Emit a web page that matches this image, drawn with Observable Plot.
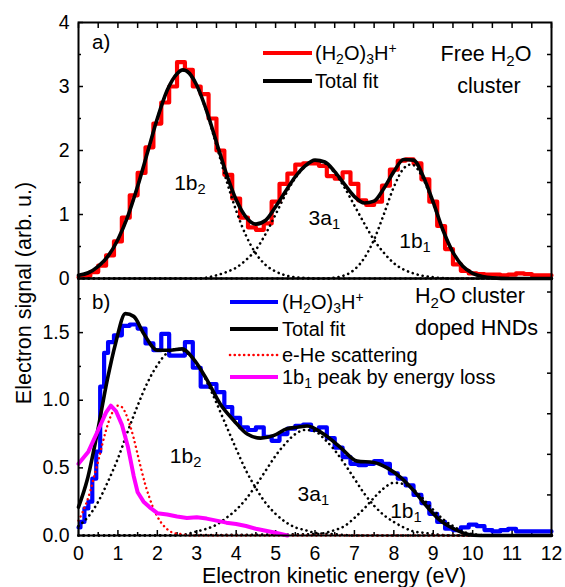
<!DOCTYPE html>
<html><head><meta charset="utf-8">
<script src="https://cdn.jsdelivr.net/npm/d3@7"></script>
<script src="https://cdn.jsdelivr.net/npm/@observablehq/plot@0.6"></script>
<style>
html,body{margin:0;padding:0;background:#fff;}
#chart{position:relative;width:565px;height:587px;font-family:"Liberation Sans",Arial,sans-serif;color:#000;overflow:hidden;}
#chart svg{position:absolute;left:0;overflow:visible;}
.lab{position:absolute;white-space:nowrap;line-height:1;}
.lab sub{font-size:70%;vertical-align:-0.32em;line-height:0;}
.lab sup{font-size:70%;vertical-align:0.5em;line-height:0;}
</style></head>
<body><div id="chart"></div>
<script>
// ---------- ticks ----------
const xMajorTicks = [0,1,2,3,4,5,6,7,8,9,10,11,12];
const xMinorTicks = [0.5,1.5,2.5,3.5,4.5,5.5,6.5,7.5,8.5,9.5,10.5,11.5];
const topYTicks = [0,1,2,3,4];
const topYMinor = [0.5,1.5,2.5,3.5];
const topYRight = [0.5,1,1.5,2,2.5,3,3.5];
const botYTicks = [0,0.5,1,1.5];
const botYMinor = [0.25,0.75,1.25,1.75];
const botYRight = [0.3,0.6,0.9,1.2,1.5,1.8];
const botYLabels = ["0.0","0.5","1.0","1.5"];

// ---------- panel a) free H2O cluster ----------
const topData = [[0,.02],[.2,.04],[.4,.10],[.6,.20],[.8,.36],[1.0,.58],[1.2,.95],[1.4,1.30],[1.6,1.65],[1.8,2.05],[2.0,2.42],[2.2,2.75],[2.4,3.00],[2.6,3.38],[2.8,3.26],[3.0,3.00],[3.2,2.88],[3.4,2.50],[3.6,2.00],[3.8,1.62],[4.0,1.25],[4.2,.95],[4.4,.80],[4.6,.76],[4.8,.86],[5.0,1.20],[5.2,1.48],[5.4,1.64],[5.6,1.78],[5.8,1.80],[6.0,1.80],[6.2,1.76],[6.4,1.60],[6.6,1.56],[6.8,1.66],[7.0,1.48],[7.2,1.22],[7.4,1.15],[7.6,1.20],[7.8,1.45],[8.0,1.70],[8.2,1.84],[8.4,1.86],[8.6,1.80],[8.8,1.55],[9.0,1.20],[9.2,.82],[9.4,.46],[9.6,.22],[9.8,.12],[10.0,.08],[10.2,.07],[10.4,.06],[10.6,.06],[10.8,.05],[11.0,.06],[11.2,.08],[11.4,.07],[11.6,.05],[11.8,.05],[12,.05]];
const topFit = [[0,.05],[.25,.09],[.5,.19],[.75,.35],[1,.61],[1.25,.97],[1.5,1.44],[1.75,1.97],[2,2.5],[2.25,2.94],[2.5,3.2],[2.65,3.26],[2.75,3.24],[3,3.02],[3.25,2.62],[3.5,2.13],[3.75,1.64],[4,1.23],[4.25,.96],[4.5,.85],[4.75,.91],[5,1.12],[5.25,1.36],[5.5,1.59],[5.75,1.76],[6,1.85],[6.25,1.82],[6.5,1.67],[6.75,1.47],[7,1.28],[7.25,1.18],[7.5,1.21],[7.75,1.41],[8,1.67],[8.25,1.86],[8.5,1.85],[8.75,1.59],[9,1.19],[9.25,.75],[9.5,.41],[9.75,.19],[10,.08],[10.25,.03],[10.5,.01],[11,0],[12,0]];
const top1b2 = [[0,.04],[.25,.09],[.5,.19],[.75,.35],[1,.61],[1.25,.97],[1.5,1.44],[1.75,1.97],[2,2.5],[2.25,2.94],[2.5,3.2],[2.65,3.25],[2.75,3.23],[3,3.01],[3.25,2.6],[3.5,2.08],[3.75,1.54],[4,1.06],[4.25,.67],[4.5,.39],[4.75,.21],[5,.11],[5.25,.05],[5.5,.02],[5.75,.01],[6,0],[12,0]];
const top3a1 = [[0,0],[3,0],[3.5,.05],[3.75,.1],[4,.17],[4.25,.29],[4.5,.45],[4.75,.7],[5,1.0],[5.25,1.31],[5.5,1.57],[5.75,1.75],[6,1.84],[6.25,1.8],[6.5,1.65],[6.75,1.42],[7,1.14],[7.25,.86],[7.5,.6],[7.75,.4],[8,.24],[8.25,.14],[8.5,.08],[8.75,.04],[9,.02],[9.5,0],[12,0]];
const top1b1 = [[0,0],[6.25,0],[6.75,.05],[7,.14],[7.25,.32],[7.5,.61],[7.75,1.01],[8,1.43],[8.25,1.72],[8.42,1.78],[8.5,1.77],[8.75,1.55],[9,1.17],[9.25,.75],[9.5,.41],[9.75,.19],[10,.08],[10.25,.03],[10.5,.01],[11,0],[12,0]];

// ---------- panel b) H2O cluster doped HNDs ----------
const botData = [[0,.06],[.1,.10],[.2,.20],[.3,.25],[.4,.42],[.5,.62],[.6,1.10],[.7,1.35],[.8,1.43],[1.0,1.48],[1.2,1.55],[1.4,1.56],[1.6,1.53],[1.8,1.42],[2.0,1.37],[2.2,1.49],[2.4,1.33],[2.6,1.33],[2.8,1.43],[3.0,1.24],[3.2,1.10],[3.4,1.12],[3.6,1.06],[3.8,.95],[4.0,.87],[4.2,.80],[4.4,.78],[4.6,.80],[4.8,.73],[5.0,.70],[5.2,.75],[5.4,.79],[5.6,.81],[5.8,.82],[6.0,.78],[6.2,.80],[6.4,.72],[6.6,.65],[6.8,.58],[7.0,.53],[7.2,.52],[7.4,.53],[7.6,.55],[7.8,.53],[8.0,.46],[8.2,.42],[8.4,.37],[8.6,.30],[8.8,.24],[9.0,.16],[9.2,.10],[9.4,.05],[9.6,.04],[9.8,.06],[10.0,.08],[10.2,.07],[10.4,.04],[10.6,.03],[10.8,.04],[11.0,.05],[11.2,.03],[11.6,.03],[12,.03]];
const botFit = [[0,.21],[.22,.41],[.47,.75],[.73,1.15],[.94,1.42],[1.19,1.64],[1.4,1.62],[1.66,1.49],[2.0,1.37],[2.33,1.37],[2.63,1.38],[2.93,1.30],[3.26,1.15],[3.6,.97],[3.94,.85],[4.28,.75],[4.62,.72],[4.96,.74],[5.29,.79],[5.55,.80],[5.8,.81],[6.22,.75],[6.65,.65],[7.07,.55],[7.49,.54],[7.83,.50],[8.17,.43],[8.51,.33],[8.85,.21],[9.18,.11],[9.52,.05],[9.86,.01],[10.2,0],[12,0]];
const botEHe = [[0,.11],[.1,.17],[.2,.24],[.3,.33],[.4,.44],[.5,.55],[.6,.67],[.7,.78],[.8,.87],[.9,.93],[1.0,.96],[1.1,.95],[1.2,.90],[1.3,.82],[1.4,.72],[1.5,.60],[1.6,.48],[1.7,.37],[1.8,.28],[1.9,.20],[2.0,.14],[2.2,.06],[2.4,.02],[2.6,.01],[2.8,0],[12,0]];
const bot1b2 = [[0,.07],[.25,.14],[.5,.25],[.75,.4],[1,.57],[1.25,.77],[1.5,.96],[1.75,1.13],[2,1.26],[2.25,1.35],[2.5,1.38],[2.75,1.35],[3,1.27],[3.25,1.14],[3.5,.98],[3.75,.81],[4,.64],[4.25,.48],[4.5,.35],[4.75,.24],[5,.16],[5.25,.1],[5.5,.06],[5.75,.04],[6,.02],[6.5,.01],[7,0],[12,0]];
const bot3a1 = [[0,0],[2.5,0],[3,.03],[3.25,.05],[3.5,.08],[3.75,.13],[4,.19],[4.25,.27],[4.5,.37],[4.75,.48],[5,.59],[5.25,.68],[5.5,.75],[5.75,.78],[6,.77],[6.25,.71],[6.5,.63],[6.75,.53],[7,.42],[7.25,.31],[7.5,.22],[7.75,.15],[8,.1],[8.25,.06],[8.5,.03],[8.75,.02],[9,.01],[9.5,0],[12,0]];
const bot1b1 = [[0,0],[6,.01],[6.5,.04],[6.75,.07],[7,.13],[7.25,.2],[7.5,.28],[7.75,.35],[8,.39],[8.25,.38],[8.5,.34],[8.75,.27],[9,.19],[9.25,.12],[9.5,.07],[9.75,.03],[10,.01],[10.5,0],[12,0]];
const botLoss = [[0,.53],[.25,.62],[.5,.78],[.7,.91],[.82,.96],[.95,.92],[1.1,.82],[1.25,.66],[1.4,.44],[1.5,.32],[1.65,.25],[1.8,.21],[2.0,.165],[2.25,.155],[2.5,.14],[2.75,.13],[3.0,.135],[3.25,.125],[3.5,.11],[3.75,.095],[4.0,.085],[4.25,.07],[4.5,.05],[4.75,.035],[5.0,.02],[5.3,0]];

// ---------- text ----------
const topPeakLabels = [{t:"1b_2", e:2.84, v:1.50},{t:"3a_1", e:6.25, v:0.96},{t:"1b_1", e:8.55, v:0.59}];
const botPeakLabels = [{t:"1b_2", e:2.73, v:0.59},{t:"3a_1", e:5.97, v:0.31},{t:"1b_1", e:8.32, v:0.185}];
const topLegend = [{t:"(H_2O)_3H^+", color:"#ff0000", dash:null},{t:"Total fit", color:"#000000", dash:null}];
const botLegend = [{t:"(H_2O)_3H^+", color:"#0000ff", dash:null},{t:"Total fit", color:"#000000", dash:null},{t:"e-He scattering", color:"#ff0000", dash:"0.1 4.6"},{t:"1b_1 peak by energy loss", color:"#ff00ff", dash:null}];
const xTitle = "Electron kinetic energy (eV)";
const yTitle = "Electron signal (arb. u.)";

// ---------- layout ----------
const FONT = '"Liberation Sans", Arial, sans-serif';
const W = 565, ML = 78, MR = 14;
const chart = document.getElementById("chart");
const X = d => d[0], Y = d => d[1];
const dotted = (data, color) => Plot.line(data, {x: X, y: Y, curve: "monotone-x", stroke: color, strokeWidth: 2.6, strokeDasharray: "0.1 5", strokeLinecap: "round"});

function frameTicks(yMajor, yMinor, yRight, topTicks) {
  const m = [
    Plot.axisY({ticks: yMajor, tickSize: -5, fill: "none", strokeWidth: 1.5}),
    Plot.axisY({ticks: yMinor, tickSize: -3, fill: "none", strokeWidth: 1.5}),
    Plot.axisY({anchor: "right", ticks: yRight, tickSize: -5, fill: "none", strokeWidth: 1.5})
  ];
  if (topTicks) {
    m.push(Plot.axisX({anchor: "top", ticks: xMajorTicks, tickSize: -5, fill: "none", strokeWidth: 1.5}));
    m.push(Plot.axisX({anchor: "top", ticks: xMinorTicks, tickSize: -5, fill: "none", strokeWidth: 1.5}));
  } else {
    m.push(Plot.axisX({anchor: "bottom", ticks: xMajorTicks, tickSize: -5, fill: "none", strokeWidth: 1.5}));
    m.push(Plot.axisX({anchor: "bottom", ticks: xMinorTicks, tickSize: -3, fill: "none", strokeWidth: 1.5}));
  }
  return m;
}

const style = {fontFamily: FONT, fontSize: "19.5px", color: "#000", background: "transparent", overflow: "visible"};

const topPlot = Plot.plot({
  width: W, height: 280, marginTop: 22, marginBottom: 2, marginLeft: ML, marginRight: MR,
  x: {domain: [0, 12]}, y: {domain: [0, 4]}, style,
  marks: [
    Plot.axisY({ticks: topYTicks, tickSize: 0, tickPadding: 9, tickFormat: d => String(d)}),
    ...frameTicks(topYTicks, topYMinor, topYRight, true),
    Plot.line(topData, {x: X, y: Y, curve: "step", stroke: "#ff0000", strokeWidth: 4.2}),
    dotted(top1b2, "#000"), dotted(top3a1, "#000"), dotted(top1b1, "#000"),
    Plot.line(topFit, {x: X, y: Y, curve: "monotone-x", stroke: "#000", strokeWidth: 3.6}),
    Plot.frame({stroke: "#000", strokeWidth: 2})
  ]
});
topPlot.style.top = "0px";
chart.appendChild(topPlot);

const botPlot = Plot.plot({
  width: W, height: 311, marginTop: 2, marginBottom: 52, marginLeft: ML, marginRight: MR,
  x: {domain: [0, 12]}, y: {domain: [0, 1.9]}, style,
  marks: [
    Plot.axisY({ticks: botYTicks, tickSize: 0, tickPadding: 9, tickFormat: (d, i) => botYLabels[i]}),
    Plot.axisX({ticks: xMajorTicks, tickSize: 0, tickPadding: 11, tickFormat: d => String(d)}),
    ...frameTicks(botYTicks, botYMinor, botYRight, false),
    Plot.line(botData, {x: X, y: Y, curve: "step", stroke: "#0000ff", strokeWidth: 4.2}),
    dotted(bot1b2, "#000"), dotted(bot3a1, "#000"), dotted(bot1b1, "#000"),
    Plot.line(botEHe, {x: X, y: Y, curve: "monotone-x", stroke: "#ff0000", strokeWidth: 2.4, strokeDasharray: "0.1 4.6", strokeLinecap: "round"}),
    Plot.line(botFit, {x: X, y: Y, curve: "monotone-x", stroke: "#000", strokeWidth: 3.6}),
    Plot.line(botLoss, {x: X, y: Y, stroke: "#ff00ff", strokeWidth: 4}),
    Plot.frame({stroke: "#000", strokeWidth: 2})
  ]
});
const BOT_TOP = 276;
botPlot.style.top = BOT_TOP + "px";
chart.appendChild(botPlot);

// ---------- html text ----------
const markup = s => s.replace(/_(\w)/g, "<sub>$1</sub>").replace(/\^(.)/g, "<sup>$1</sup>");
function label(s, x, y, size, anchor) {
  const d = document.createElement("div");
  d.className = "lab";
  d.innerHTML = markup(s);
  d.style.fontSize = size + "px";
  d.style.left = x + "px";
  d.style.top = y + "px";
  d.style.transform = anchor === "middle" ? "translate(-50%,-50%)" : "translate(0,-50%)";
  chart.appendChild(d);
  return d;
}

const tx = topPlot.scale("x"), ty = topPlot.scale("y");
const bx = botPlot.scale("x"), by = botPlot.scale("y");
topPeakLabels.forEach(p => label(p.t, tx.apply(p.e), ty.apply(p.v), 21, "middle"));
botPeakLabels.forEach(p => label(p.t, bx.apply(p.e), BOT_TOP + by.apply(p.v), 21, "middle"));

label("a)", 92, 42, 20.5, "start");
label("b)", 92, 302, 20.5, "start");
label("Free H_2O", 486, 55, 21.5, "middle");
label("cluster", 489, 87, 21.5, "middle");
label("H_2O cluster", 415, 297, 21.5, "start");
label("doped HNDs", 415, 329, 21.5, "start");

// overlay for legend swatches
const ov = d3.select(chart).append("svg").attr("width", W).attr("height", 587).style("top", "0px").style("pointer-events", "none");
function legend(items, x1, x2, tx0, rows, size) {
  items.forEach((it, i) => {
    const ln = ov.append("line").attr("x1", x1).attr("x2", x2).attr("y1", rows[i]).attr("y2", rows[i])
      .attr("stroke", it.color).attr("stroke-width", it.dash ? 2.6 : 4.2);
    if (it.dash) ln.attr("stroke-dasharray", it.dash).attr("stroke-linecap", "round");
    label(it.t, tx0, rows[i], size, "start");
  });
}
legend(topLegend, 263, 312, 315, [53, 81], 20);
legend(botLegend, 230, 278, 282, [302, 329, 355, 377], 20);

// axis titles
const xt = label(xTitle, 334, 576.5, 21.5, "middle");
const yt = label(yTitle, 25, 293, 21.5, "middle");
yt.style.transform = "translate(-50%,-50%) rotate(-90deg)";
</script>
</body></html>
